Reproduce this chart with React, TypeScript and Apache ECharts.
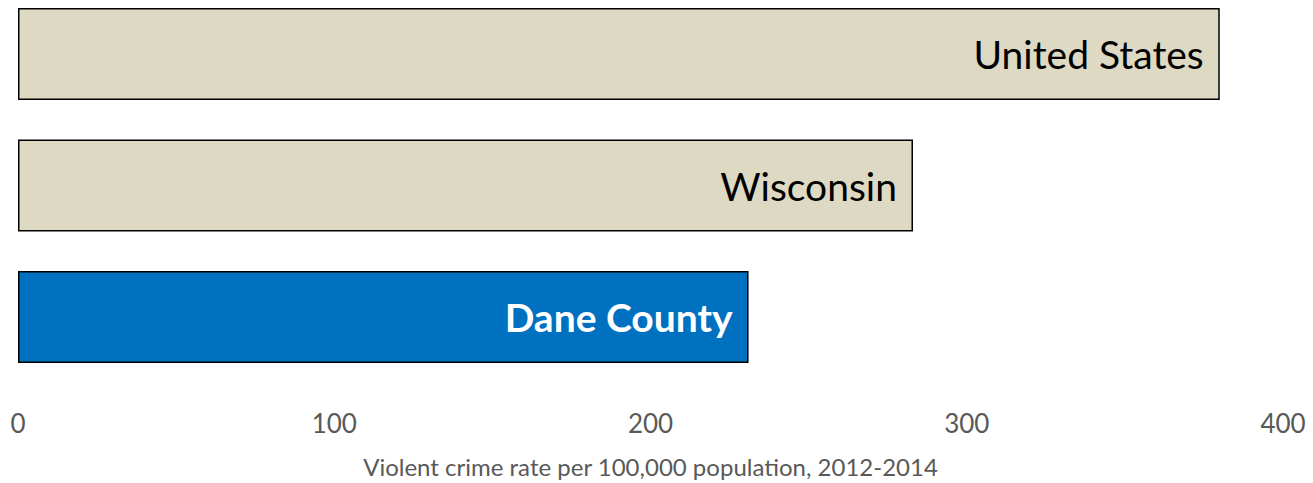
import React, { useEffect, useRef } from "react";
import * as echarts from "echarts";

const categories = ["Dane County", "Wisconsin", "United States"];
const values = [231, 283, 380];
const barColors = ["#0070C0", "#DDD9C3", "#DDD9C3"];
const labelColors = ["#FFFFFF", "#000000", "#000000"];
const labelWeights = ["bold", "normal", "normal"];
const xTicks = [0, 100, 200, 300, 400];
const axisTitle = "Violent crime rate per 100,000 population, 2012-2014";

export default function App() {
  const ref = useRef<HTMLDivElement>(null);
  useEffect(() => {
    if (!ref.current) return;
    const chart = echarts.init(ref.current, null, { renderer: "svg" });
    chart.setOption({
      animation: false,
      grid: { left: 18, right: 30, top: 54, height: 266, containLabel: false },
      xAxis: {
        type: "value",
        min: xTicks[0],
        max: xTicks[xTicks.length - 1],
        interval: 100,
        axisLine: { show: false },
        axisTick: { show: false },
        splitLine: { show: false },
        axisLabel: {
          margin: 93,
          fontFamily: "Lato",
          fontSize: 26,
          color: "#595959",
        },
        name: axisTitle,
        nameLocation: "middle",
        nameGap: 137,
        nameTextStyle: { fontFamily: "Lato", fontSize: 24, color: "#595959" },
      },
      yAxis: {
        type: "category",
        data: categories,
        boundaryGap: false,
        axisLine: { show: false },
        axisTick: { show: false },
        axisLabel: { show: false },
        splitLine: { show: false },
      },
      series: [
        {
          type: "bar",
          barWidth: 92,
          data: values.map((v, i) => ({
            value: v,
            itemStyle: { color: barColors[i], borderColor: "#000000", borderWidth: 1.5 },
            label: {
              show: true,
              position: "insideRight",
              distance: 16,
              formatter: categories[i],
              fontFamily: "Lato",
              fontSize: 39,
              color: labelColors[i],
              fontWeight: labelWeights[i],
            },
          })),
        },
      ],
    });
    return () => chart.dispose();
  }, []);
  return <div ref={ref} style={{ width: 1313, height: 483, position: "absolute", left: 0, top: 0 }} />;
}
